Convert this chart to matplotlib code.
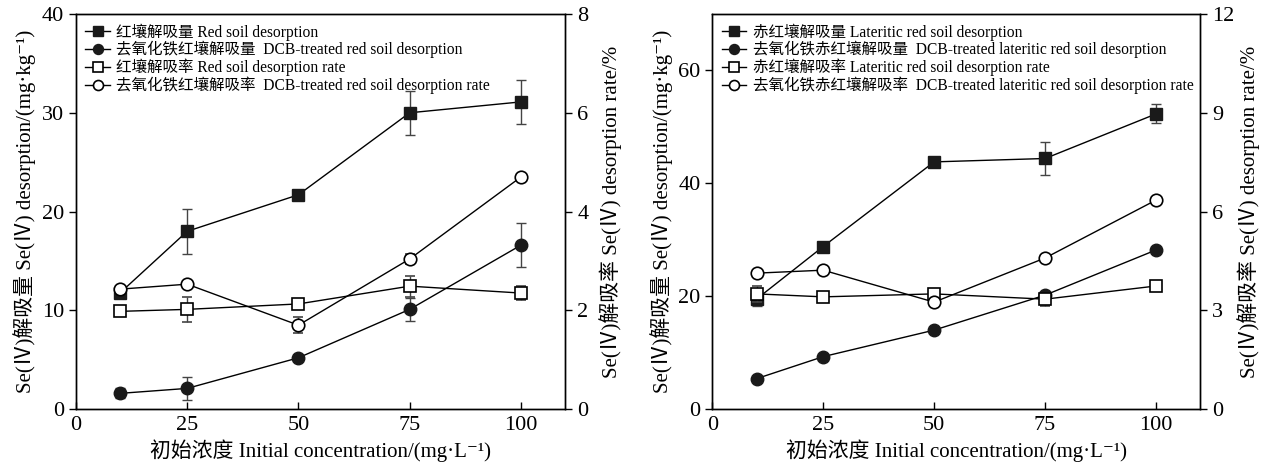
import matplotlib.pyplot as plt
import numpy as np

plt.rcParams['font.family'] = ['Liberation Serif', 'Noto Sans CJK SC', 'DejaVu Sans']

x = [10, 25, 50, 75, 100]

# left panel: red soil
red_des = [11.8, 18.0, 21.7, 30.0, 31.1]
red_des_err = [0.5, 2.3, 0.4, 2.2, 2.2]
dcb_red_des = [1.6, 2.1, 5.2, 10.1, 16.6]
dcb_red_des_err = [0.5, 1.15, 0.3, 1.2, 2.2]
red_rate = [1.98, 2.02, 2.13, 2.49, 2.35]
red_rate_err = [0.04, 0.25, 0.05, 0.21, 0.15]
dcb_red_rate = [2.43, 2.53, 1.70, 3.04, 4.70]
dcb_red_rate_err = [0.07, 0.04, 0.16, 0.1, 0.06]

# right panel: lateritic red soil
lat_des = [19.5, 28.8, 43.8, 44.4, 52.3]
lat_des_err = [1.2, 0.5, 0.6, 3.0, 1.7]
dcb_lat_des = [5.4, 9.3, 14.0, 20.2, 28.2]
dcb_lat_des_err = [0.3, 0.3, 0.3, 0.4, 0.4]
lat_rate = [3.5, 3.41, 3.5, 3.34, 3.74]
lat_rate_err = [0.25, 0.05, 0.1, 0.2, 0.05]
dcb_lat_rate = [4.13, 4.22, 3.25, 4.59, 6.35]
dcb_lat_rate_err = [0.05, 0.1, 0.1, 0.1, 0.1]

labels_left = ['红壤解吸量 Red soil desorption',
               '去氧化铁红壤解吸量  DCB-treated red soil desorption',
               '红壤解吸率 Red soil desorption rate',
               '去氧化铁红壤解吸率  DCB-treated red soil desorption rate']
labels_right = ['赤红壤解吸量 Lateritic red soil desorption',
                '去氧化铁赤红壤解吸量  DCB-treated lateritic red soil desorption',
                '赤红壤解吸率 Lateritic red soil desorption rate',
                '去氧化铁赤红壤解吸率  DCB-treated lateritic red soil desorption rate']

fig = plt.figure(figsize=(12.65, 4.66), dpi=100)
ax1 = fig.add_axes([0.060, 0.122, 0.387, 0.848])
ax2 = fig.add_axes([0.563, 0.122, 0.386, 0.848])


def panel(ax, d1, e1, d2, e2, r1, re1, r2, re2, ylim, yticks, rlim, rticks, labels, rpad):
    axr = ax.twinx()
    kw = dict(color='black', lw=1, ms=9, ecolor='#444444', elinewidth=1, capsize=3.5, capthick=1)
    h1 = ax.errorbar(x, d1, yerr=e1, marker='s', mfc='#1a1a1a', mec='#1a1a1a', **kw)
    h2 = ax.errorbar(x, d2, yerr=e2, marker='o', mfc='#1a1a1a', mec='#1a1a1a', **kw)
    h3 = axr.errorbar(x, r1, yerr=re1, marker='s', mfc='white', mec='black', mew=1.2, **kw)
    h4 = axr.errorbar(x, r2, yerr=re2, marker='o', mfc='white', mec='black', mew=1.2, **kw)
    ax.set_xlim(0, 110)
    ax.set_xticks([0, 25, 50, 75, 100])
    ax.set_ylim(*ylim)
    ax.set_yticks(yticks)
    axr.set_ylim(*rlim)
    axr.set_yticks(rticks)
    ax.tick_params(axis='x', direction='in', length=5, width=1, labelsize=16, pad=5)
    ax.tick_params(axis='y', direction='out', length=5, width=1, labelsize=16)
    axr.tick_params(axis='y', direction='out', length=5, width=1, labelsize=16)
    for a in (ax, axr):
        for s in a.spines.values():
            s.set_linewidth(1)
    ax.set_xlabel('初始浓度 Initial concentration/(mg·L⁻¹)', fontsize=15, labelpad=3)
    ax.set_ylabel('Se(Ⅳ)解吸量 Se(Ⅳ) desorption/(mg·kg⁻¹)', fontsize=15, labelpad=4)
    axr.set_ylabel('Se(Ⅳ)解吸率 Se(Ⅳ) desorption rate/%', fontsize=15, labelpad=rpad)
    handles = [h[0] for h in (h1, h2, h3, h4)]
    ax.legend(handles, labels, loc='upper left', frameon=False, fontsize=11.2,
              handlelength=1.6, handletextpad=0.4, labelspacing=0.03,
              borderaxespad=0.2, markerscale=0.8)
    return axr


panel(ax1, red_des, red_des_err, dcb_red_des, dcb_red_des_err,
      red_rate, red_rate_err, dcb_red_rate, dcb_red_rate_err,
      (0, 40), [0, 10, 20, 30, 40], (0, 8), [0, 2, 4, 6, 8], labels_left, 8)
panel(ax2, lat_des, lat_des_err, dcb_lat_des, dcb_lat_des_err,
      lat_rate, lat_rate_err, dcb_lat_rate, dcb_lat_rate_err,
      (0, 70), [0, 20, 40, 60], (0, 12), [0, 3, 6, 9, 12], labels_right, 2)

fig.savefig('out.png', dpi=100)
